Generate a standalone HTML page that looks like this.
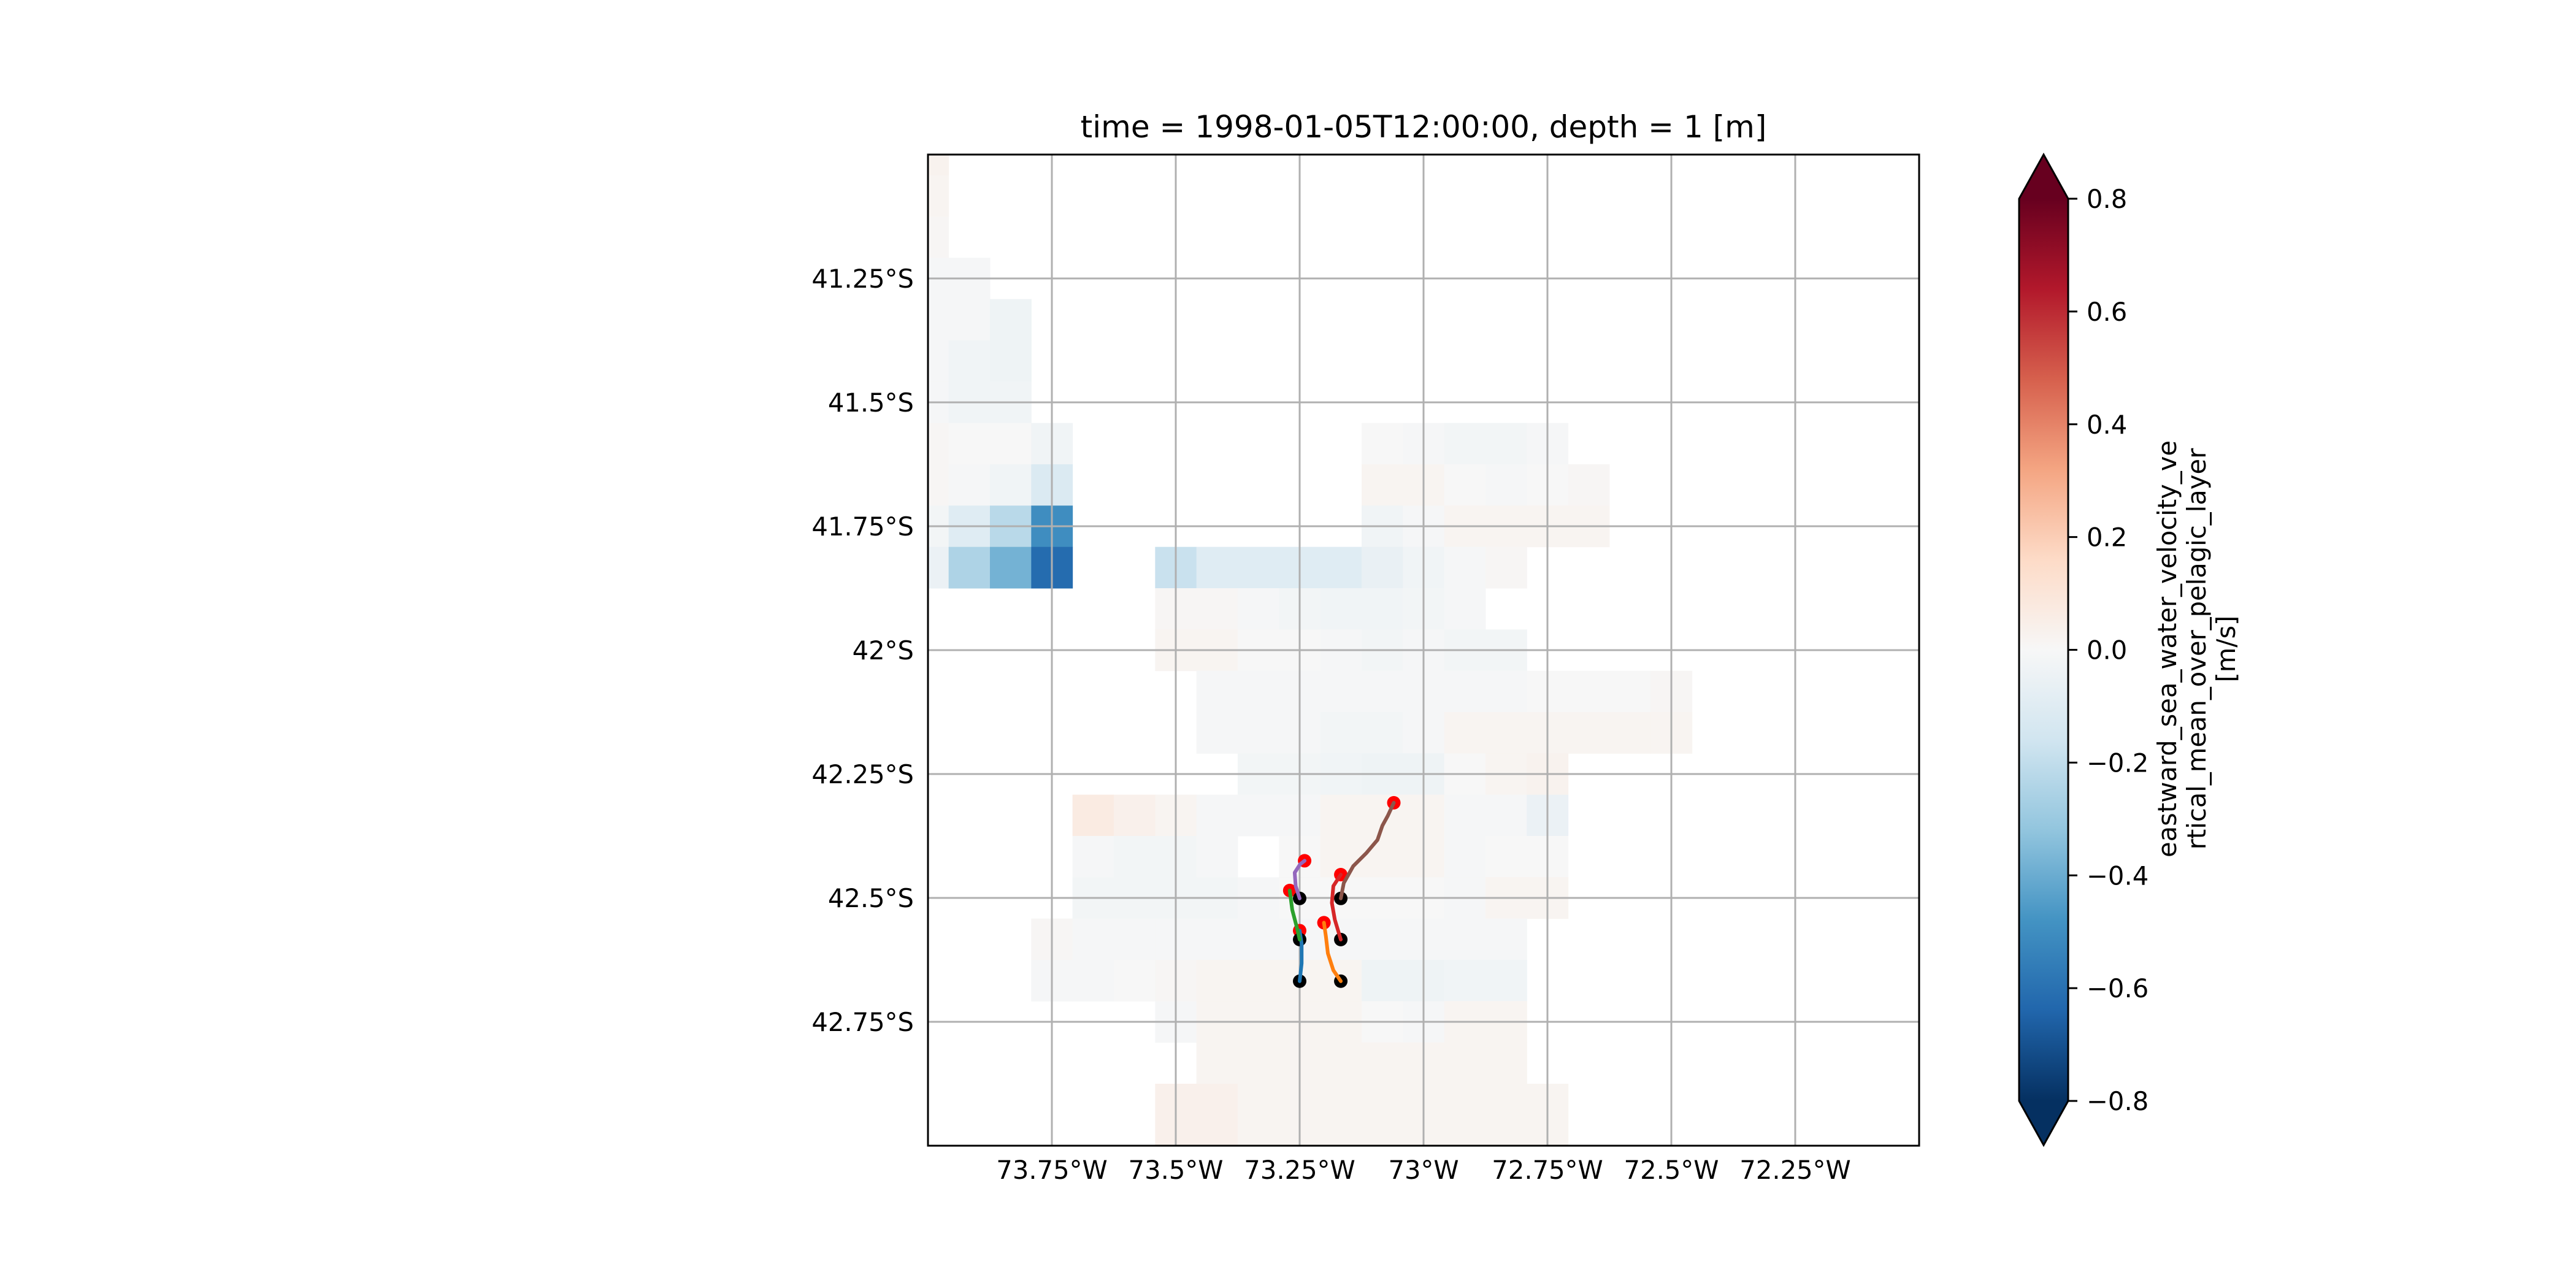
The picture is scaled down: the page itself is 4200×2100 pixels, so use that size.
<!DOCTYPE html>
<html><head><meta charset="utf-8"><style>
html,body{margin:0;padding:0;background:#fff;}
svg{display:block;font-family:"DejaVu Sans","Liberation Sans",sans-serif;}
</style></head><body>
<svg id="fig" width="4200" height="2100" viewBox="0 0 4200 2100" xmlns="http://www.w3.org/2000/svg">
<defs>
<clipPath id="axclip"><rect x="1513" y="252" width="1616" height="1616"/></clipPath>
<linearGradient id="cbgrad" x1="0" y1="1" x2="0" y2="0">
<stop offset="0" stop-color="#053061"/><stop offset="0.1" stop-color="#2166ac"/><stop offset="0.2" stop-color="#4393c3"/><stop offset="0.3" stop-color="#92c5de"/><stop offset="0.4" stop-color="#d1e5f0"/><stop offset="0.5" stop-color="#f7f7f7"/><stop offset="0.6" stop-color="#fddbc7"/><stop offset="0.7" stop-color="#f4a582"/><stop offset="0.8" stop-color="#d6604d"/><stop offset="0.9" stop-color="#b2182b"/><stop offset="1" stop-color="#67001f"/>
</linearGradient>
</defs>
<rect width="4200" height="2100" fill="#fff"/>
<text x="2321" y="224" font-size="50" text-anchor="middle">time = 1998-01-05T12:00:00, depth = 1 [m]</text>
<g id="cells" clip-path="url(#axclip)"></g>
<g id="grid"></g>
<g id="tracks"></g>
<rect x="1513" y="252" width="1616" height="1616" fill="none" stroke="#000" stroke-width="3"/>
<g id="xlabels"></g>
<g id="ylabels"></g>
<g id="colorbar">
<rect x="3292" y="324" width="80" height="1471" fill="url(#cbgrad)"/>
<polygon points="3292,324 3332,252 3372,324" fill="#67001f"/>
<polygon points="3292,1795 3332,1867 3372,1795" fill="#053061"/>
<polygon points="3292,324 3332,252 3372,324 3372,1795 3332,1867 3292,1795" fill="none" stroke="#000" stroke-width="3"/>
<g id="cbticks"></g>
<text transform="translate(3548,1058) rotate(-90)" font-size="41.7" text-anchor="middle">eastward_sea_water_velocity_ve</text>
<text transform="translate(3596,1058) rotate(-90)" font-size="41.7" text-anchor="middle">rtical_mean_over_pelagic_layer</text>
<text transform="translate(3644,1058) rotate(-90)" font-size="41.7" text-anchor="middle">[m/s]</text>
</g>
</svg>
<script>
const NS = "http://www.w3.org/2000/svg";
const n = null;
const lonTicks = [-73.75, -73.5, -73.25, -73.0, -72.75, -72.5, -72.25];
const lonTickLabels = ["73.75°W","73.5°W","73.25°W","73°W","72.75°W","72.5°W","72.25°W"];
const latTicks = [-41.25, -41.5, -41.75, -42.0, -42.25, -42.5, -42.75];
const latTickLabels = ["41.25°S","41.5°S","41.75°S","42°S","42.25°S","42.5°S","42.75°S"];
const cbTicks = [0.8, 0.6, 0.4, 0.2, 0.0, -0.2, -0.4, -0.6, -0.8];
const cbTickLabels = ["0.8","0.6","0.4","0.2","0.0","\u22120.2","\u22120.4","\u22120.6","\u22120.8"];
const uGrid = [
[0.03],
[0.02],
[0.01],
[-0.01,-0.01],
[-0.01,-0.01,-0.04],
[-0.01,-0.03,-0.04],
[-0.01,-0.03,-0.03],
[0.01,0,0,-0.03,n,n,n,n,n,n,n,0,-0.01,-0.02,-0.02,-0.01],
[0.01,-0.01,-0.03,-0.12,n,n,n,n,n,n,n,0.02,0.02,0,-0.01,0,0.01],
[-0.02,-0.1,-0.22,-0.5,n,n,n,n,n,n,n,-0.03,-0.01,0.02,0.02,0.02,0.02],
[-0.05,-0.25,-0.38,-0.62,n,n,-0.18,-0.1,-0.1,-0.1,-0.1,-0.06,-0.03,-0.01,0.01],
[n,n,n,n,n,n,0.01,0.01,-0.01,-0.02,-0.03,-0.03,-0.02,-0.01],
[n,n,n,n,n,n,0.02,0.02,0,0,-0.01,-0.02,-0.01,-0.02,-0.02],
[n,n,n,n,n,n,n,-0.01,-0.01,-0.01,-0.01,-0.01,-0.01,-0.01,-0.01,0,0,0,0.01],
[n,n,n,n,n,n,n,-0.01,-0.01,-0.01,-0.02,-0.02,-0.01,0.02,0.02,0.02,0.02,0.02,0.02],
[n,n,n,n,n,n,n,n,-0.02,-0.02,-0.03,-0.04,-0.04,0,0.02,0.03],
[n,n,n,n,0.07,0.04,0.02,-0.01,-0.01,-0.01,0.02,0.02,0.02,-0.01,-0.01,-0.05],
[n,n,n,n,-0.01,-0.02,-0.02,-0.01,n,0,0.02,0.02,0.02,-0.01,0,0],
[n,n,n,n,-0.02,-0.02,-0.02,-0.02,-0.01,0,0,0,0,-0.01,0.02,0.02],
[n,n,n,0.01,-0.01,-0.01,-0.01,-0.01,-0.01,-0.01,-0.01,-0.01,-0.01,-0.01,-0.01],
[n,n,n,-0.01,-0.01,0,0.01,0.02,0.02,0.02,0.02,-0.04,-0.04,-0.03,-0.03],
[n,n,n,n,n,n,-0.01,0.02,0.02,0.02,0.02,0,-0.01,0.02,0.02],
[n,n,n,n,n,n,n,0.02,0.02,0.02,0.02,0.02,0.02,0.02,0.02],
[n,n,n,n,n,n,0.04,0.04,0.02,0.02,0.02,0.02,0.02,0.02,0.02,0.02],
[n,n,n,n,n,n,0.04,0.04,0.02,0.02,0.02,0.02,0.02,0.02,0.02,0.02]
];
const trackColors = ["#1f77b4","#ff7f0e","#2ca02c","#d62728","#9467bd","#8c564b"];
const trackBlueLon = [-73.250,-73.246,-73.246,-73.250];
const trackBlueLat = [-42.668,-42.632,-42.592,-42.566];
const trackOrangeLon = [-73.167,-73.182,-73.193,-73.197,-73.201];
const trackOrangeLat = [-42.668,-42.646,-42.612,-42.578,-42.550];
const trackGreenLon = [-73.250,-73.256,-73.265,-73.270];
const trackGreenLat = [-42.584,-42.558,-42.524,-42.485];
const trackRedLon = [-73.167,-73.179,-73.185,-73.182,-73.167];
const trackRedLat = [-42.584,-42.544,-42.510,-42.476,-42.453];
const trackPurpleLon = [-73.250,-73.258,-73.260,-73.249,-73.240];
const trackPurpleLat = [-42.501,-42.476,-42.449,-42.432,-42.425];
const trackBrownLon = [-73.167,-73.161,-73.142,-73.115,-73.093,-73.083,-73.072,-73.060];
const trackBrownLat = [-42.501,-42.470,-42.436,-42.409,-42.383,-42.354,-42.334,-42.308];

const X0=1513, Y0=252, PX=808, CB_TOP=324, CB_H=1471;
function xScale(lon){return X0+(lon+74)*PX;}
function yScale(lat){return Y0+(-41-lat)*PX;}
function cbScale(v){return CB_TOP+(0.8-v)/1.6*CB_H;}
const stops=[[5,48,97],[33,102,172],[67,147,195],[146,197,222],[209,229,240],[247,247,247],[253,219,199],[244,165,130],[214,96,77],[178,24,43],[103,0,31]];
function cmap(v){let t=(v+0.8)/1.6*10;t=Math.max(0,Math.min(10,t));const i=Math.min(9,Math.floor(t)),f=t-i;const a=stops[i],b=stops[i+1];return "rgb("+a.map((c,k)=>Math.round(c+(b[k]-c)*f)).join(",")+")";}
function mk(tag,attrs,parent){const e=document.createElementNS(NS,tag);for(const k in attrs)e.setAttribute(k,attrs[k]);parent.appendChild(e);return e;}

const cells=document.getElementById("cells");
uGrid.forEach((row,r)=>{row.forEach((v,c)=>{if(v===null)return;
const lonA=-74+(c-0.5)/12, lonB=-74+(c+0.5)/12, latA=-41-(r-0.5)/12, latB=-41-(r+0.5)/12;
const x=xScale(lonA), y=yScale(latA);
const e=mk("rect",{x:x,y:y,width:xScale(lonB)-x+0.5,height:yScale(latB)-y+0.5,fill:cmap(v)},cells);


});});

const grid=document.getElementById("grid");
lonTicks.forEach(l=>{const e=mk("line",{x1:xScale(l),x2:xScale(l),y1:252,y2:1868,stroke:"#b0b0b0","stroke-width":3},grid);

});
latTicks.forEach(l=>{const e=mk("line",{x1:1513,x2:3129,y1:yScale(l),y2:yScale(l),stroke:"#b0b0b0","stroke-width":3},grid);

});

const xl=document.getElementById("xlabels");
lonTicks.forEach((l,i)=>{const e=mk("text",{x:xScale(l),y:1922,"font-size":41.7,"text-anchor":"middle"},xl);e.textContent=lonTickLabels[i];

});
const yl=document.getElementById("ylabels");
latTicks.forEach((l,i)=>{const e=mk("text",{x:1490,y:yScale(l)+15,"font-size":41.7,"text-anchor":"end"},yl);e.textContent=latTickLabels[i];

});

const cbt=document.getElementById("cbticks");
cbTicks.forEach((v,i)=>{const y=cbScale(v);
const t=mk("line",{x1:3372,x2:3387,y1:y,y2:y,stroke:"#000","stroke-width":3},cbt);


const e=mk("text",{x:3402,y:y+15,"font-size":41.7},cbt);e.textContent=cbTickLabels[i];

});

const tracks=document.getElementById("tracks");
const allTracks=[[trackBlueLon,trackBlueLat],[trackOrangeLon,trackOrangeLat],[trackGreenLon,trackGreenLat],[trackRedLon,trackRedLat],[trackPurpleLon,trackPurpleLat],[trackBrownLon,trackBrownLat]];
const trackNames=["blue","orange","green","red","purple","brown"];
allTracks.forEach((tr,i)=>{const [lo,la]=tr;const last=lo.length-1;
const s=mk("circle",{cx:xScale(lo[0]),cy:yScale(la[0]),r:11,fill:"#000"},tracks);


const en=mk("circle",{cx:xScale(lo[last]),cy:yScale(la[last]),r:11,fill:"#ff0000"},tracks);


});
allTracks.forEach((tr,i)=>{const [lo,la]=tr;
const pts=lo.map((v,k)=>xScale(v)+","+yScale(la[k])).join(" ");
const p=mk("polyline",{points:pts,fill:"none",stroke:trackColors[i],"stroke-width":6,"stroke-linejoin":"round","stroke-linecap":"round"},tracks);


});
</script>
</body></html>
